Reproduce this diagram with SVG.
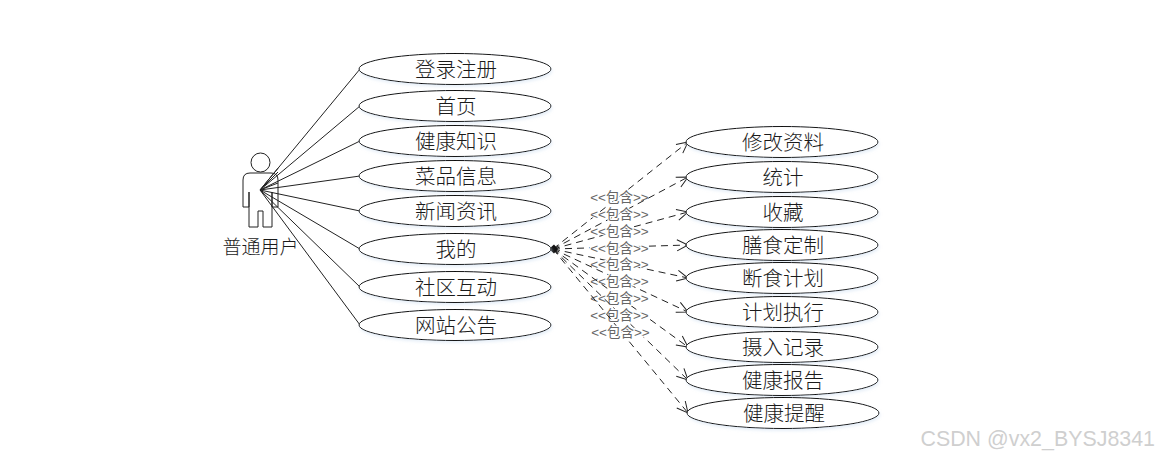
<svg xmlns="http://www.w3.org/2000/svg" width="1159" height="458" viewBox="0 0 1159 458">
<style>
.uc{fill:#fff;stroke:#111;stroke-width:1;filter:url(#glow)}
.t{font-family:"Liberation Serif","Noto Sans CJK SC",serif;font-size:20.500px;font-weight:300;fill:#1a1a1a;text-anchor:middle}
.a{stroke:#222;stroke-width:1;fill:none}
.d{stroke:#222;stroke-width:1;fill:none;stroke-dasharray:7 5;marker-end:url(#open)}
.l{font-family:"Liberation Sans","Noto Sans CJK SC",sans-serif;font-size:13.500px;fill:#666;text-anchor:middle;stroke:#fff;stroke-width:2.500px;paint-order:stroke}
</style>
<defs>
<filter id="glow" x="-5%" y="-20%" width="110%" height="150%"><feDropShadow dx="1" dy="2" stdDeviation="1.5" flood-color="#cfe0f2" flood-opacity="0.5"/></filter>
<marker id="open" markerUnits="userSpaceOnUse" markerWidth="14" markerHeight="14" refX="12" refY="7" orient="auto"><path d="M1,1.5 L12,7 L1,12.5" fill="none" stroke="#222" stroke-width="1"/></marker>
</defs>
<rect width="1159" height="458" fill="#fff"/>
<g id="connectors">
<path class="a" d="M260,190 L360,69M260,190 L360,106M260,190 L360,141M260,190 L360,176M260,190 L360,211M260,190 L360,249M260,190 L360,287M260,190 L360,325"/>
<path class="d" d="M553,249 L688,142"/><text class="l" x="619.500" y="201.500">&lt;&lt;包含&gt;&gt;</text>
<path class="d" d="M553,249 L688,177"/><text class="l" x="619.500" y="218.500">&lt;&lt;包含&gt;&gt;</text>
<path class="d" d="M553,249 L688,212"/><text class="l" x="619.500" y="235.500">&lt;&lt;包含&gt;&gt;</text>
<path class="d" d="M553,249 L688,245"/><text class="l" x="619.500" y="252.500">&lt;&lt;包含&gt;&gt;</text>
<path class="d" d="M553,249 L688,278"/><text class="l" x="619.500" y="268.500">&lt;&lt;包含&gt;&gt;</text>
<path class="d" d="M553,249 L688,312"/><text class="l" x="619.500" y="285.500">&lt;&lt;包含&gt;&gt;</text>
<path class="d" d="M553,249 L688,347"/><text class="l" x="619.500" y="302.500">&lt;&lt;包含&gt;&gt;</text>
<path class="d" d="M553,249 L688,380"/><text class="l" x="619.500" y="319.500">&lt;&lt;包含&gt;&gt;</text>
<path class="d" d="M553,249 L688,413"/><text class="l" x="620.500" y="336.500">&lt;&lt;包含&gt;&gt;</text>
<path d="M549,249 L554,244.500 L558,249 L554,253.500Z" fill="#111"/>
</g>
<g id="actor">
<circle cx="260.500" cy="162.500" r="9.500" fill="#fff" stroke="#222"/>
<path d="M249,192 V207 H243 V180 Q243,173 250,173 H271 Q278,173 278,180 V207 H272 V192 M249,192 V227 H258 V211 H263 V227 H272 V192" fill="none" stroke="#222"/>
<path class="a" d="M260,190 L278,168.200M260,190 L278,172M260,190 L278,183"/>
<text class="t" style="font-size:19px" x="260.500" y="254">普通用户</text>
</g>
<g id="uc1"><ellipse class="uc" cx="455" cy="69" rx="96" ry="15.500"/><text class="t" x="456" y="77">登录注册</text></g>
<g id="uc2"><ellipse class="uc" cx="455" cy="106" rx="96" ry="15.500"/><text class="t" x="456" y="114">首页</text></g>
<g id="uc3"><ellipse class="uc" cx="455" cy="141" rx="96" ry="15.500"/><text class="t" x="456" y="149">健康知识</text></g>
<g id="uc4"><ellipse class="uc" cx="455" cy="176" rx="96" ry="15.500"/><text class="t" x="456" y="184">菜品信息</text></g>
<g id="uc5"><ellipse class="uc" cx="455" cy="211" rx="96" ry="15.500"/><text class="t" x="456" y="219">新闻资讯</text></g>
<g id="uc6"><ellipse class="uc" cx="455" cy="249" rx="96" ry="15.500"/><text class="t" x="456" y="257">我的</text></g>
<g id="uc7"><ellipse class="uc" cx="455" cy="287" rx="96" ry="15.500"/><text class="t" x="456" y="295">社区互动</text></g>
<g id="uc8"><ellipse class="uc" cx="455" cy="325" rx="96" ry="15.500"/><text class="t" x="456" y="333">网站公告</text></g>
<g id="uc9"><ellipse class="uc" cx="782" cy="142" rx="96" ry="15.500"/><text class="t" x="783" y="150">修改资料</text></g>
<g id="uc10"><ellipse class="uc" cx="782" cy="177" rx="96" ry="15.500"/><text class="t" x="783" y="185">统计</text></g>
<g id="uc11"><ellipse class="uc" cx="782" cy="212" rx="96" ry="15.500"/><text class="t" x="783" y="220">收藏</text></g>
<g id="uc12"><ellipse class="uc" cx="782" cy="245" rx="96" ry="15.500"/><text class="t" x="783" y="253">膳食定制</text></g>
<g id="uc13"><ellipse class="uc" cx="782" cy="278" rx="96" ry="15.500"/><text class="t" x="783" y="286">断食计划</text></g>
<g id="uc14"><ellipse class="uc" cx="782" cy="312" rx="96" ry="15.500"/><text class="t" x="783" y="320">计划执行</text></g>
<g id="uc15"><ellipse class="uc" cx="782" cy="347" rx="96" ry="15.500"/><text class="t" x="783" y="355">摄入记录</text></g>
<g id="uc16"><ellipse class="uc" cx="782" cy="380" rx="96" ry="15.500"/><text class="t" x="783" y="388">健康报告</text></g>
<g id="uc17"><ellipse class="uc" cx="783" cy="413" rx="96" ry="15.500"/><text class="t" x="784" y="421">健康提醒</text></g>
<text x="1155" y="446" text-anchor="end" font-family="Liberation Sans,sans-serif" font-size="21.400" fill="#cfcfcf">CSDN @vx2_BYSJ8341</text>
</svg>
